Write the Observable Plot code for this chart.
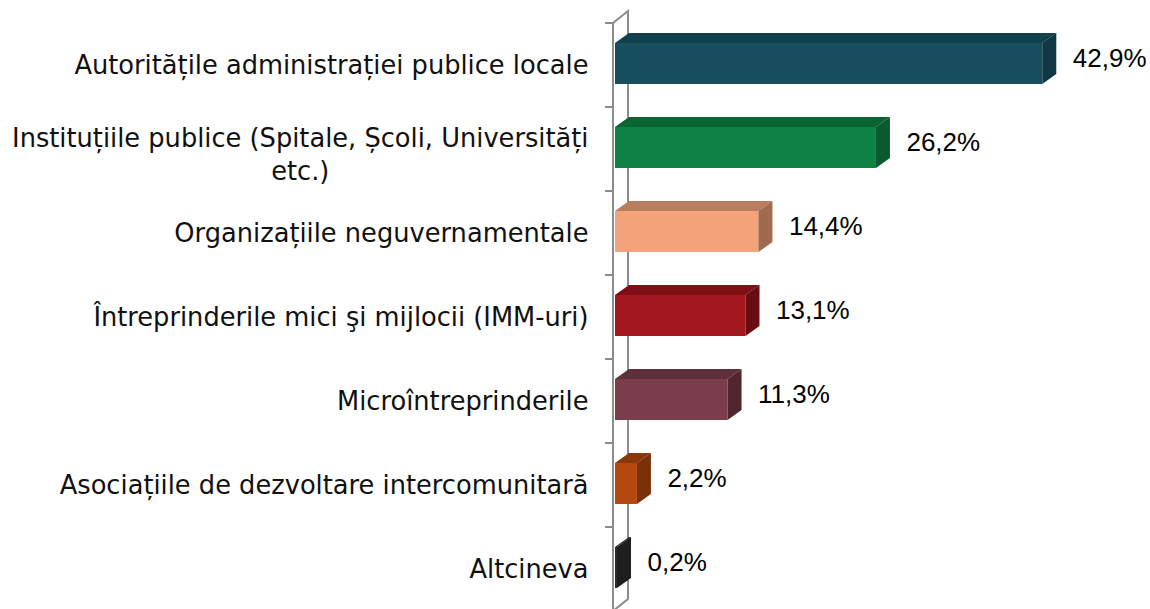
<!DOCTYPE html>
<html>
<head>
<meta charset="utf-8">
<script src="https://cdn.jsdelivr.net/npm/d3@7"></script>
<script src="https://cdn.jsdelivr.net/npm/@observablehq/plot@0.6"></script>
<style>
  html, body { margin: 0; padding: 0; background: #ffffff; }
  #chart svg { display: block; }
</style>
</head>
<body>
<div id="chart"></div>
<script>
// ---- data ----
const categories = [
  "Autoritățile administrației publice locale",
  "Instituțiile publice (Spitale, Școli, Universități etc.)",
  "Organizațiile neguvernamentale",
  "Întreprinderile mici şi mijlocii (IMM-uri)",
  "Microîntreprinderile",
  "Asociațiile de dezvoltare intercomunitară",
  "Altcineva"
];
const categoryLabels = [
  "Autoritățile administrației publice locale",
  "Instituțiile publice (Spitale, Școli, Universități\netc.)",
  "Organizațiile neguvernamentale",
  "Întreprinderile mici şi mijlocii (IMM-uri)",
  "Microîntreprinderile",
  "Asociațiile de dezvoltare intercomunitară",
  "Altcineva"
];
const values = [42.9, 26.2, 14.4, 13.1, 11.3, 2.2, 0.2];
const valueLabels = ["42,9%", "26,2%", "14,4%", "13,1%", "11,3%", "2,2%", "0,2%"];

// ---- palette ----
const frontColors = ["#174f60", "#0e8245", "#f2a379", "#a3171f", "#7b3c4c", "#b5480f", "#2b2b2b"];
const topColors   = ["#11404e", "#0b6533", "#b97c5c", "#7e1016", "#5f2f3b", "#8a370a", "#232323"];
const sideColors  = ["#0f3844", "#095a2e", "#a16a4e", "#6a0d12", "#52262f", "#7a3008", "#1e1e1e"];

const data = categories.map((c, i) => ({
  category: c, label: categoryLabels[i], value: values[i], valueLabel: valueLabels[i]
}));

const LABEL_FONT = "'DejaVu Sans', sans-serif";
const LABEL_SIZE = 25.7;
const VALUE_FONT = "'Liberation Sans', Arial, sans-serif";
const VALUE_SIZE = 26;
const DEPTH_X = 14, DEPTH_Y = -10;
const INSET_TOP = 20, INSET_BOTTOM = 23;
const LABEL_GAP = 27;

// measure first line of wrapped label for centring
const cvs = document.createElement("canvas").getContext("2d");
cvs.font = `${LABEL_SIZE}px ${LABEL_FONT}`;

// 3D wall (axis) drawn through scales
function wall(index, scales) {
  const {x, y} = scales;
  const bw = y.bandwidth();
  const x0 = x(0) - 2;
  const top = y(categories[0]);
  const bottom = y(categories[categories.length - 1]) + bw;
  const g = d3.create("svg:g").attr("fill", "none").attr("stroke", "#8c8c8c").attr("stroke-width", 2);
  g.append("path").attr("fill", "#ffffff")
    .attr("d", `M${x0},${bottom}L${x0},${top}L${x0 + DEPTH_X + 1},${top + DEPTH_Y - 2}L${x0 + DEPTH_X + 1},${bottom + DEPTH_Y - 2}Z`);
  for (let i = 0; i <= categories.length; i++) {
    const yy = i < categories.length ? y(categories[i]) : bottom;
    g.append("line").attr("x1", x0 - 8).attr("x2", x0).attr("y1", yy).attr("y2", yy);
  }
  return g.node();
}

// top and side faces of each bar
function faces(index, scales) {
  const {x, y} = scales;
  const bw = y.bandwidth();
  const g = d3.create("svg:g");
  data.forEach((d, i) => {
    const x0 = x(0), x1 = x(d.value);
    const y0 = y(d.category) + INSET_TOP;
    const y1 = y(d.category) + bw - INSET_BOTTOM;
    g.append("path").attr("fill", topColors[i])
      .attr("d", `M${x0},${y0}L${x1},${y0}L${x1 + DEPTH_X},${y0 + DEPTH_Y}L${x0 + DEPTH_X},${y0 + DEPTH_Y}Z`);
    g.append("path").attr("fill", sideColors[i])
      .attr("d", `M${x1},${y0}L${x1 + DEPTH_X},${y0 + DEPTH_Y}L${x1 + DEPTH_X},${y1 + DEPTH_Y}L${x1},${y1}Z`);
  });
  return g.node();
}

const single = data.filter(d => !d.label.includes("\n"));
const multi = data.filter(d => d.label.includes("\n"));
const firstLineWidth = multi.length ? cvs.measureText(multi[0].label.split("\n")[0]).width : 0;

const chart = Plot.plot({
  width: 1150,
  height: 609,
  marginLeft: 615,
  marginRight: 37,
  marginTop: 23,
  marginBottom: 0,
  style: {background: "#ffffff", overflow: "visible"},
  x: {domain: [0, 50], range: [615, 1113], axis: null},
  y: {domain: categories, range: [23, 611], padding: 0, axis: null},
  color: {domain: categories, range: frontColors},
  marks: [
    wall,
    Plot.barX(data, {x: "value", y: "category", fill: "category", insetTop: INSET_TOP, insetBottom: INSET_BOTTOM}),
    faces,
    Plot.text(data, {
      x: "value", y: "category", text: "valueLabel", dx: 30, dy: -7,
      textAnchor: "start", fontSize: VALUE_SIZE, fontFamily: VALUE_FONT, fill: "#000000"
    }),
    Plot.text(single, {
      y: "category", text: "label", frameAnchor: "left", dx: -LABEL_GAP,
      textAnchor: "end", fontSize: LABEL_SIZE, fontFamily: LABEL_FONT, fill: "#111111"
    }),
    Plot.text(multi, {
      y: "category", text: "label", frameAnchor: "left", dx: -LABEL_GAP - firstLineWidth / 2, dy: 3,
      textAnchor: "middle", lineHeight: 1.3, fontSize: LABEL_SIZE, fontFamily: LABEL_FONT, fill: "#111111"
    })
  ]
});
document.getElementById("chart").appendChild(chart);
</script>
</body>
</html>
